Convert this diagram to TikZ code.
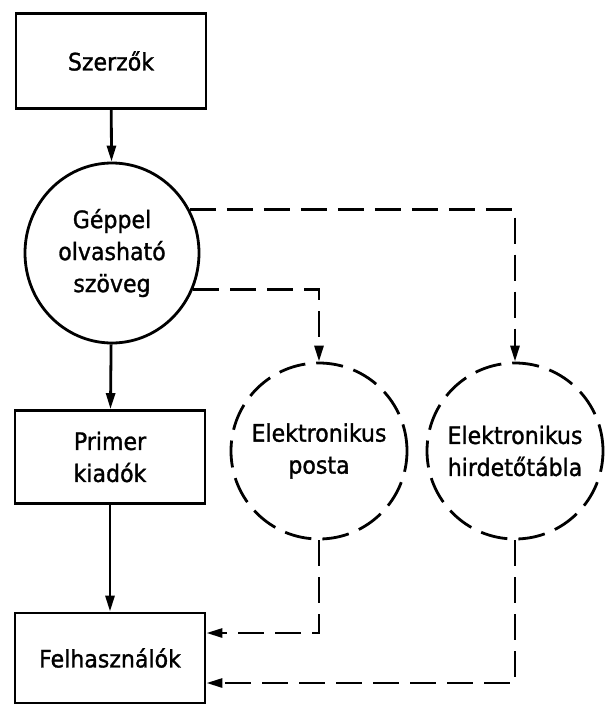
\documentclass[tikz,border=0pt]{standalone}
\usepackage{fontspec}
\setmainfont{DejaVu Sans}[FakeStretch=0.92,FakeBold=1.2]
\usetikzlibrary{arrows.meta,shapes.geometric}

\begin{document}
\begin{tikzpicture}[x=1pt,y=-1pt,>={Triangle[length=16pt,width=9pt]},line width=2.8pt,
  every node/.style={font=\fontsize{24}{32}\selectfont,align=center},
  box/.style={draw,minimum width=190pt,minimum height=93pt},
  oval/.style={draw,ellipse,minimum width=174pt,minimum height=180pt,inner sep=0pt},
  dashoval/.style={draw,circle,minimum size=176pt,inner sep=0pt,dash pattern=on 27pt off 11pt},
  link/.style={->,dash pattern=on 26pt off 11pt}]
  \useasboundingbox (0,0) rectangle (605,704);
  % solid chain on the left
  \node[box,minimum height=95pt] (szerzok) at (111,61) {Szerzők};
  \node[oval] (geppel) at (112,253) {Géppel\\olvasható\\szöveg};
  \node[box] (primer) at (110,457) {Primer\\kiadók};
  \node[box,minimum height=90pt] (felh) at (110,658) {Felhasználók};
  % electronic channels
  \node[dashoval] (posta) at (319,451) {Elektronikus\\posta};
  \node[dashoval] (tabla) at (515,451) {Elektronikus\\hirdetőtábla};
  \draw[->] (szerzok) -- (geppel);
  \draw[->] (geppel) -- (primer);
  \draw[->] (primer) -- (felh);
  \draw[link] (geppel.29) -| (tabla.north);
  \draw[link] (geppel.-24) -| (posta.north);
  \draw[link] (posta.south) |- ([yshift=25pt]felh.east);
  \draw[link] (tabla.south) |- ([yshift=-25pt]felh.east);
\end{tikzpicture}
\end{document}
